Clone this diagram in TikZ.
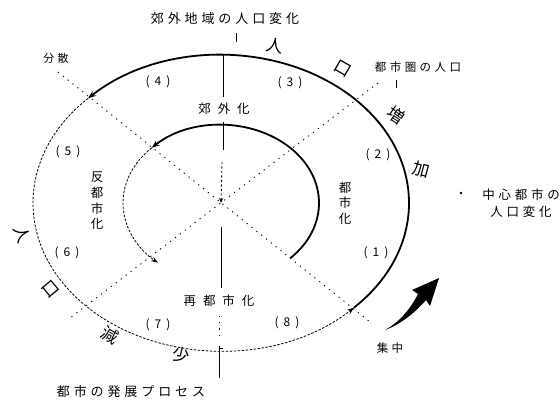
\documentclass[tikz,border=0pt]{standalone}
\usepackage{fontspec}
\newfontfamily\jp{Noto Sans CJK JP}
\newfontfamily\jpw{Noto Sans CJK JP}[LetterSpace=30]
\newfontfamily\jpx{Noto Sans CJK JP}[LetterSpace=55]
\usetikzlibrary{arrows.meta,calc}
\newcommand{\pn}[1]{(\hspace{5pt}#1\hspace{5pt})}
\begin{document}
\begin{tikzpicture}[x=1pt,y=-1pt,
  ttl/.style={font=\jpw\fontsize{13}{13}\selectfont, inner sep=0pt},
  wide/.style={font=\jpx\fontsize{12.5}{12.5}\selectfont, inner sep=0pt},
  vert/.style={font=\jp\fontsize{12.5}{15.6}\selectfont, inner sep=0pt, align=center},
  num/.style={font=\jp\fontsize{12}{12}\selectfont, inner sep=0pt},
  arcch/.style={font=\jp\fontsize{17}{17}\selectfont, inner sep=0pt},
  thickarc/.style={line width=1.8pt},
  thinarc/.style={line width=0.8pt, dash pattern=on 2.5pt off 1.5pt},
  diag/.style={line width=0.9pt, dash pattern=on 1.2pt off 5pt},
  axis/.style={line width=1pt}]
\useasboundingbox (0,0) rectangle (560,401);
\coordinate (C) at (221,203);

% outer cycle
\draw[thickarc,-{Stealth[length=8pt,width=6pt]}] ($(C)+(45:188 and 148)$)
  arc[start angle=45,end angle=-135,x radius=188,y radius=148];
\draw[thinarc,-{Stealth[length=7pt,width=5pt]}] ($(C)+(225:188 and 148)$)
  arc[start angle=225,end angle=45,x radius=188,y radius=148];
% inner cycle
\draw[thickarc,-{Stealth[length=8pt,width=6pt]}] ($(C)+(45:98 and 78)$)
  arc[start angle=45,end angle=-135,x radius=98,y radius=78];
\draw[thinarc,-{Stealth[length=7pt,width=5pt]}] ($(C)+(225:98 and 78)$)
  arc[start angle=225,end angle=130,x radius=98,y radius=78];

% diagonals
\coordinate (dA) at (58,72);
\coordinate (dB) at (370,322);
\coordinate (dC) at (378,83);
\coordinate (dD) at (70,318);
\draw[diag] (dA) -- (dB);
\draw[diag] (dC) -- (dD);

% vertical axis
\draw[axis] (223,55) -- (223,97);
\draw[axis] (223,122) -- (223,150);
\draw[line width=0.9pt, dash pattern=on 2pt off 2.5pt,-{Stealth[length=5pt,width=4pt]}] (222,162) -- (C);
\draw[axis] (221,227) -- (221,288);
\draw[diag] (219,316) -- (219,340);
\draw[axis] (219,346) -- (219,378);
\draw[axis] (219,348) -- (223,348);
\draw[axis] (236,33) -- (236,42);
\draw[axis] (396,80) -- (396,88);
\fill (461,193) circle (1.3);

% big arrow
\fill (385,330) .. controls (398,323) and (410,310) .. (418,294)
  -- (412,290) -- (439,278) -- (430,306) -- (426,300)
  .. controls (414,314) and (399,325) .. (385,330) -- cycle;

% titles and labels
\node[ttl] (t1) at (225,19) {郊外地域の人口変化};
\node[ttl] (t2) at (131,392) {都市の発展プロセス};
\node[font=\jpw\fontsize{12.5}{17}\selectfont, inner sep=0pt, align=center] (t3) at (521,203) {中心都市の\\人口変化};
\node[font=\jpw\fontsize{11.5}{11.5}\selectfont, inner sep=0pt] (t4) at (418,67) {都市圏の人口};
\node[font=\jpw\fontsize{11}{11}\selectfont, inner sep=0pt] (bs) at (56,58) {分散};
\node[font=\jpw\fontsize{11.5}{11.5}\selectfont, inner sep=0pt] (sc) at (390,348) {集中};
\node[wide] (kg) at (224,109) {郊外化};
\node[wide] (sa) at (219,301) {再都市化};
\node[vert] (ts) at (345,203) {都\\市\\化};
\node[vert] (ht) at (97,201) {反\\都\\市\\化};

% stage numbers
\node[num] (n1) at (376,253) {\pn{1}};
\node[num] (n2) at (378,155) {\pn{2}};
\node[num] (n3) at (290,83) {\pn{3}};
\node[num] (n4) at (158,82) {\pn{4}};
\node[num] (n5) at (68,152) {\pn{5}};
\node[num] (n6) at (67,253) {\pn{6}};
\node[num] (n7) at (158,325) {\pn{7}};
\node[num] (n8) at (287,323) {\pn{8}};

% characters along the outer ring
\node[arcch, rotate=-10] (c1) at (275,46) {人};
\node[arcch, rotate=-30] (c2) at (343,69) {口};
\node[arcch, rotate=-35] (c3) at (396,115) {増};
\node[arcch, rotate=-15] (c4) at (421,170) {加};
\node[arcch, rotate=-70] (c5) at (22,234) {人};
\node[arcch, rotate=-50] (c6) at (50,289) {口};
\node[arcch, rotate=-30] (c7) at (110,335) {減};
\node[arcch, rotate=-12] (c8) at (181,355) {少};
\end{tikzpicture}
\end{document}
